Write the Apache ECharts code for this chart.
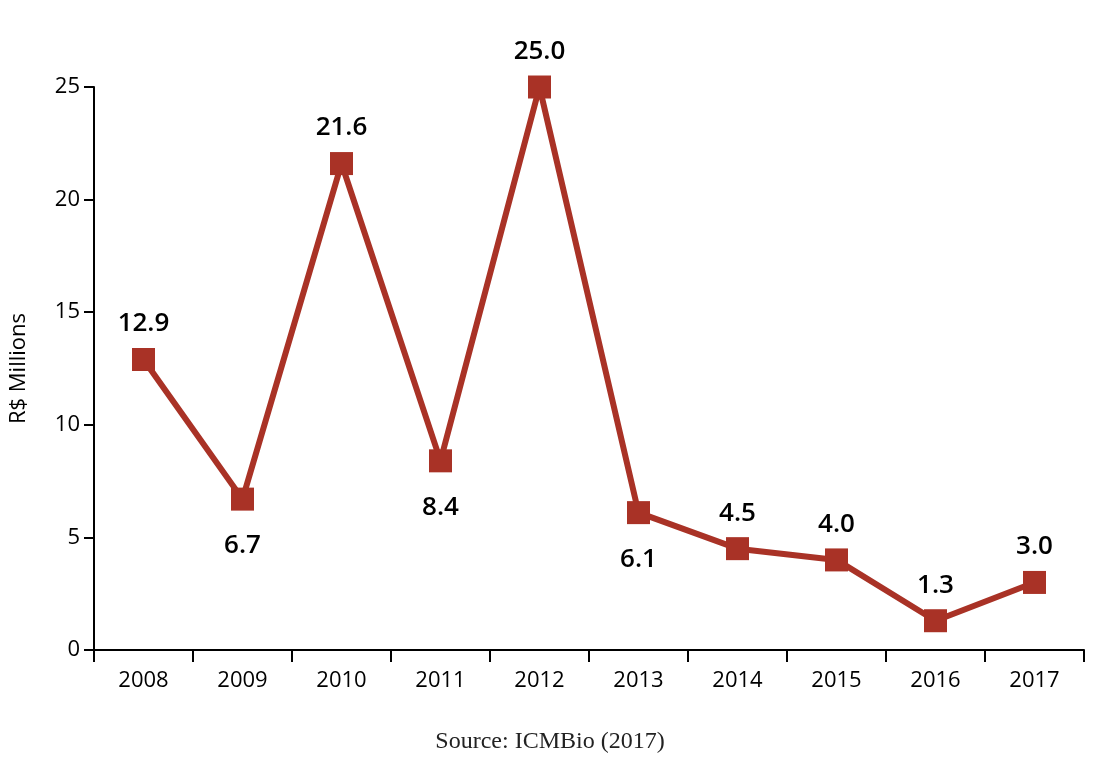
<!DOCTYPE html>
<html>
<head>
<meta charset="utf-8">
<script src="https://cdn.jsdelivr.net/npm/echarts@6/dist/echarts.min.js"></script>
<style>
html,body{margin:0;padding:0;background:#fff;}
#chart{width:1100px;height:772px;}
</style>
</head>
<body>
<div id="chart"></div>
<script>
const years = ['2008','2009','2010','2011','2012','2013','2014','2015','2016','2017'];
const values = [12.9, 6.7, 21.6, 8.4, 25.0, 6.1, 4.5, 4.0, 1.3, 3.0];
const yTicks = [0, 5, 10, 15, 20, 25];
const labelsBelow = ['2009', '2011', '2013'];
const yAxisTitle = 'R$ Millions';
const sourceText = 'Source: ICMBio (2017)';

const chart = echarts.init(document.getElementById('chart'));
const font = '"Open Sans", "Noto Sans", sans-serif';
const seriesData = values.map((v, i) => {
  const below = labelsBelow.indexOf(years[i]) >= 0;
  return {
    value: v,
    label: { position: below ? 'bottom' : 'top', distance: below ? 22 : 11 }
  };
});
chart.setOption({
  animation: false,
  backgroundColor: '#ffffff',
  grid: { left: 93, right: 16, top: 87, bottom: 122 },
  xAxis: {
    type: 'category',
    data: years,
    boundaryGap: true,
    axisLine: { lineStyle: { color: '#000', width: 2 } },
    axisTick: { show: true, length: 12, lineStyle: { color: '#000', width: 2 }, alignWithLabel: false },
    axisLabel: { color: '#000', fontSize: 22, fontFamily: font, margin: 20 },
    splitLine: { show: false }
  },
  yAxis: {
    type: 'value',
    min: yTicks[0],
    max: yTicks[yTicks.length - 1],
    interval: yTicks[1] - yTicks[0],
    name: yAxisTitle,
    nameLocation: 'middle',
    nameGap: 64,
    nameRotate: 90,
    nameTextStyle: { color: '#000', fontSize: 22, fontFamily: font },
    axisLine: { show: true, lineStyle: { color: '#000', width: 2 } },
    axisTick: { show: true, length: 10, lineStyle: { color: '#000', width: 2 } },
    axisLabel: { color: '#000', fontSize: 22, fontFamily: font, margin: 14 },
    splitLine: { show: false }
  },
  series: [{
    type: 'line',
    data: seriesData,
    symbol: 'rect',
    symbolSize: 23,
    lineStyle: { color: '#A93226', width: 6 },
    itemStyle: { color: '#A93226' },
    label: {
      show: true,
      color: '#000',
      fontSize: 26,
      fontWeight: 600,
      fontFamily: font,
      formatter: p => Number(p.value).toFixed(1)
    }
  }],
  graphic: [{
    type: 'text',
    left: 'center',
    top: 730,
    style: { text: sourceText, fill: '#222', fontSize: 24, fontFamily: '"Liberation Serif", "DejaVu Serif", serif' }
  }]
});
</script>
</body>
</html>
